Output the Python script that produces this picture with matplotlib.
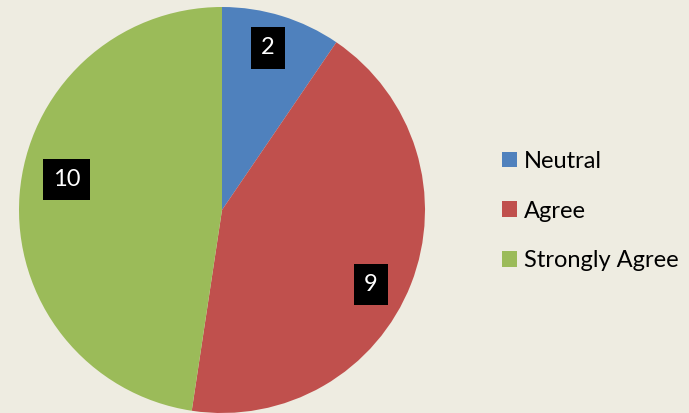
import numpy as np
import matplotlib.pyplot as plt
from matplotlib.patches import Patch
from matplotlib.path import Path

categories = ["Neutral", "Agree", "Strongly Agree"]
counts = [2, 9, 10]
colors = ["#4F81BD", "#C0504D", "#9BBB59"]
bg = "#EEECE1"

# label placement tweaks (radius fraction, angle nudge in degrees)
label_dist = [0.83, 0.82, 0.78]
label_nudge = [1.3, -5.2, -6.8]

plt.rcParams['font.family'] = ['Lato', 'DejaVu Sans']


def tall_box(x0, y0, width, height, mutation_size):
    # square box with more padding top/bottom than left/right
    px, py = 0.42 * mutation_size, 0.44 * mutation_size
    x0, y0 = x0 - px, y0 - py
    x1, y1 = x0 + width + 2 * px, y0 + height + 2 * py
    return Path([(x0, y0), (x1, y0), (x1, y1), (x0, y1), (x0, y0)],
                closed=True)


W, H = 689, 413
fig = plt.figure(figsize=(W / 100, H / 100), dpi=100, facecolor=bg)

# pie centered at (222, 210) px, radius ~203 px
cx, cy, r = 222, 210, 203
ax = fig.add_axes([(cx - r) / W, (H - cy - r) / H, 2 * r / W, 2 * r / H])
ax.set_facecolor(bg)

wedges, _ = ax.pie(counts, colors=colors, startangle=90, counterclock=False,
                   wedgeprops={"linewidth": 0})
for w, n, d, nudge in zip(wedges, counts, label_dist, label_nudge):
    ang = np.deg2rad((w.theta1 + w.theta2) / 2 + nudge)
    ax.text(d * np.cos(ang), d * np.sin(ang), str(n), color="white", fontsize=17,
            ha="center", va="center",
            bbox=dict(boxstyle=tall_box, facecolor="black", edgecolor="none"))
ax.set_xlim(-1, 1)
ax.set_ylim(-1, 1)
ax.set_aspect("equal")
ax.axis("off")

handles = [Patch(facecolor=c, edgecolor="none") for c in colors]
fig.legend(handles, categories, loc="center left", bbox_to_anchor=(502 / W, 1 - 211 / H),
           frameon=False, fontsize=17, handlelength=0.64, handleheight=0.64,
           handletextpad=0.28, labelspacing=1.22, borderaxespad=0, borderpad=0)

fig.savefig("out.png", dpi=100, facecolor=bg)
